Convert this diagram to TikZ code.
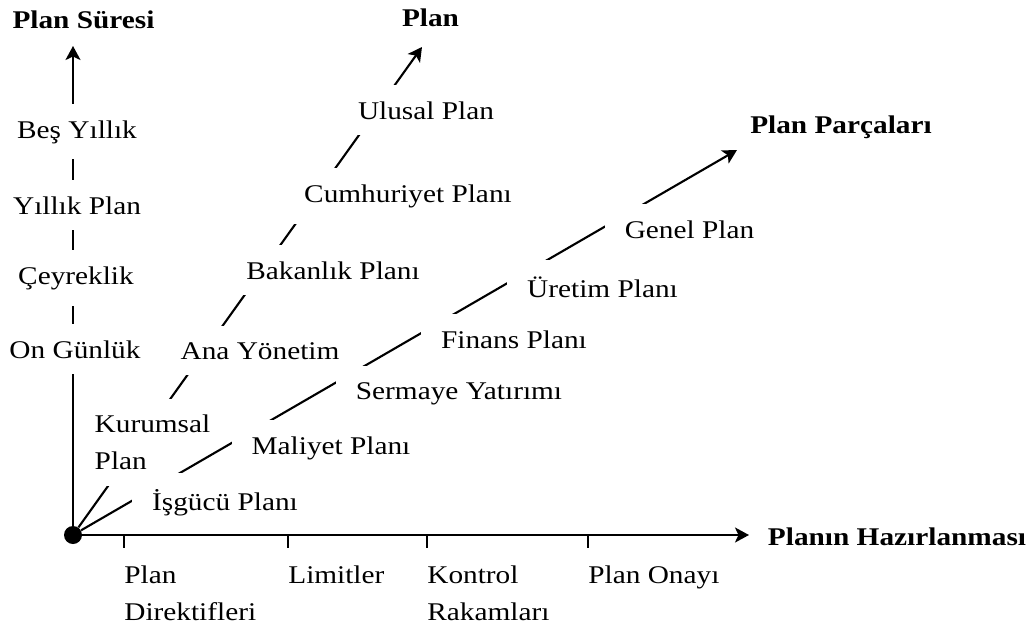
\documentclass[tikz,border=0pt]{standalone}
\usepackage{fontspec}
\setmainfont[FakeStretch=1.15]{Liberation Serif}
\usepackage{tikz}
\usetikzlibrary{arrows.meta,positioning}
\definecolor{ChartInk}{gray}{0}
\tikzset{
  chart/.style={font=\fontsize{14.5}{21.3}\selectfont,text=ChartInk,color=ChartInk,
    >={Stealth[length=2.8mm,width=3mm,inset=0.7mm]}},
  axis/.style={->,line width=1.2pt,draw=ChartInk},
  stage/.style={fill=white,anchor=base,inner xsep=0.4cm,inner ysep=0.32cm},
  heading/.style={font=\fontsize{14.5}{21.3}\selectfont\bfseries,anchor=base,inner sep=0pt},
  tickmark/.style={line width=1.2pt,draw=ChartInk},
  ticklabel/.style={anchor=north west,align=left,inner sep=0pt},
}
\begin{document}
\begin{tikzpicture}[chart]
  \useasboundingbox (0,0) rectangle (20.64,12.6);

  \node[circle,fill=ChartInk,inner sep=0pt,minimum size=0.36cm] (origin) at (1.46,1.90) {};
  \coordinate (xend) at (14.98,1.90);
  \coordinate (yend) at (1.46,11.68);
  \coordinate (planend) at (8.44,11.66);
  \coordinate (partend) at (14.74,9.60);

  % axes and the first diagonal
  \draw[axis] (origin) -- (xend);
  \draw[axis] (origin) -- (yend);
  \draw[axis] (origin) -- (planend);

  \draw[tickmark] (2.48,1.90) -- ++(0,-0.26);
  \draw[tickmark] (5.76,1.90) -- ++(0,-0.26);
  \draw[tickmark] (8.54,1.90) -- ++(0,-0.26);
  \draw[tickmark] (11.76,1.90) -- ++(0,-0.26);

  \node[ticklabel] (direktif) at (2.48,1.29) {Plan\\Direktifleri};
  \node[ticklabel] (limit) at (5.76,1.29) {Limitler};
  \node[ticklabel] (kontrol) at (8.54,1.29) {Kontrol\\Rakamları};
  \node[ticklabel] (onay) at (11.76,1.29) {Plan Onayı};

  % plan durations
  \node[stage] (besyil) at (1.54,9.84) {Beş Yıllık};
  \node[stage] (yillik) at (1.54,8.32) {Yıllık Plan};
  \node[stage] (ceyrek) at (1.52,6.92) {Çeyreklik};
  \node[stage] (ongun) at (1.50,5.44) {On Günlük};

  % plan levels
  \node[stage,anchor=center,align=left] (kurum) at (3.05,3.75) {Kurumsal\\Plan};
  \node[stage] (anayon) at (5.20,5.42) {Ana Yönetim};
  \node[stage] (bakan) at (6.66,7.02) {Bakanlık Planı};
  \node[stage] (cumhur) at (8.16,8.56) {Cumhuriyet Planı};
  \node[stage] (ulusal) at (8.52,10.22) {Ulusal Plan};

  % plan parts
  \draw[axis] (origin) -- (partend);
  \node[stage] (isgucu) at (4.50,2.40) {İşgücü Planı};
  \node[stage] (maliyet) at (6.62,3.52) {Maliyet Planı};
  \node[stage] (sermaye) at (9.18,4.62) {Sermaye Yatırımı};
  \node[stage] (finans) at (10.28,5.64) {Finans Planı};
  \node[stage] (uretim) at (12.05,6.66) {Üretim Planı};
  \node[stage] (genel) at (13.79,7.84) {Genel Plan};

  \node[heading] (sure) at (1.67,12.04) {Plan Süresi};
  \node[heading] (plan) at (8.61,12.08) {Plan};
  \node[heading] (parca) at (16.82,9.94) {Plan Parçaları};
  \node[heading] (hazirlik) at (17.94,1.70) {Planın Hazırlanması};
\end{tikzpicture}
\end{document}
